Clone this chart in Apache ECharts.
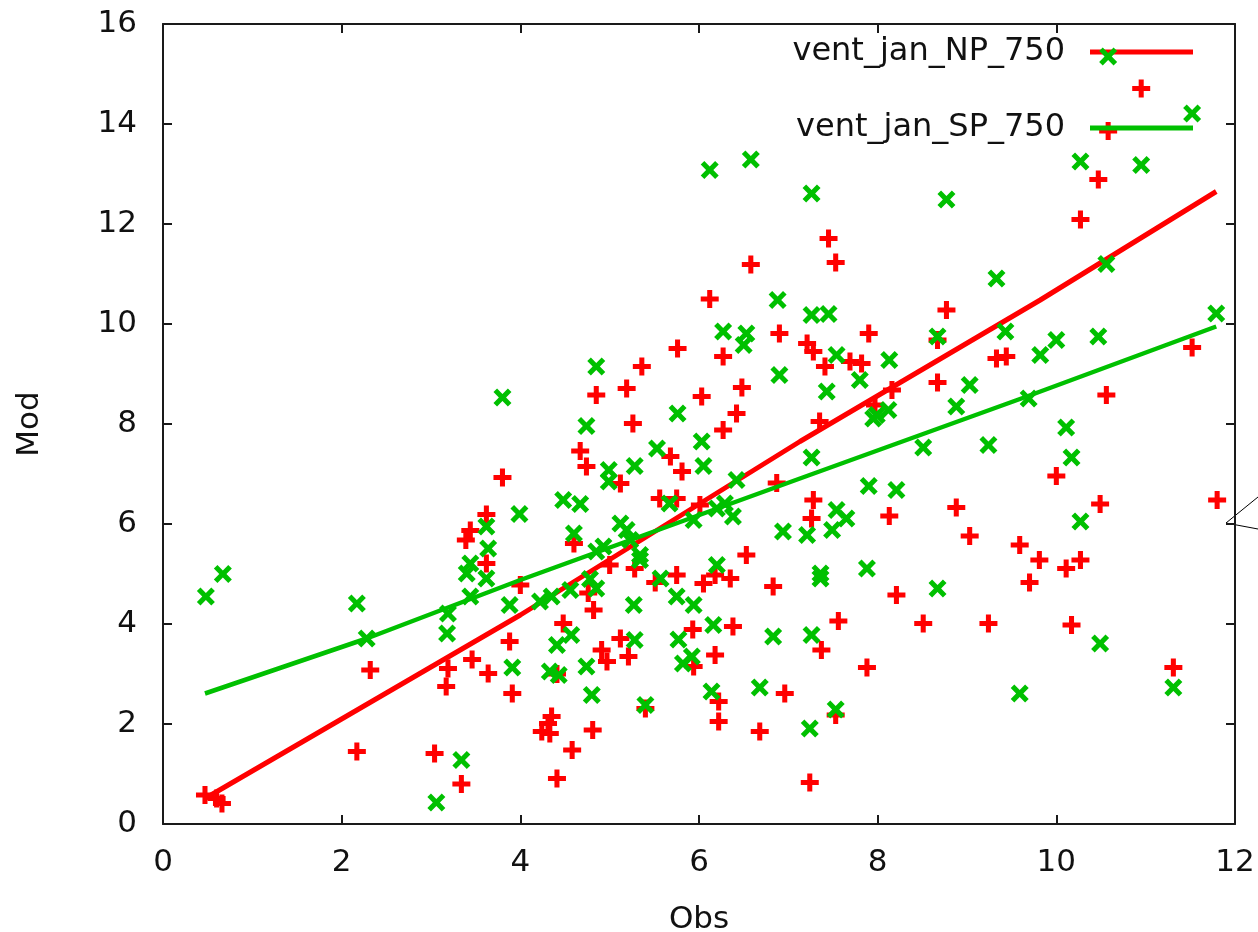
<!DOCTYPE html>
<html>
<head>
<meta charset="utf-8">
<script src="https://cdn.jsdelivr.net/npm/echarts@6/dist/echarts.min.js"></script>
<style>
  html, body { margin: 0; padding: 0; background: #fff; }
  #chart { width: 1258px; height: 932px; }
</style>
</head>
<body>
<div id="chart"></div>
<script>
// Observed vs modelled values, [Obs, Mod]
const npPoints = [
  [0.47,0.58],[0.60,0.51],[0.66,0.41],[2.17,1.45],[2.32,3.08],[3.04,1.41],[3.34,0.80],
  [3.17,2.75],[3.19,3.11],[3.46,3.29],[3.64,3.01],[3.88,3.65],[3.91,2.61],[3.62,5.21],
  [3.39,5.68],[3.44,5.87],[3.62,6.19],[3.80,6.93],[4.00,4.78],[4.35,2.15],[4.41,3.00],
  [4.48,4.01],[4.82,4.28],[4.76,4.62],[4.60,5.61],[4.67,7.46],[4.74,7.15],[4.85,8.58],
  [4.31,2.01],[4.24,1.85],[4.33,1.81],[4.81,1.88],[4.58,1.48],[4.41,0.91],[4.91,3.48],
  [4.97,3.25],[5.12,3.71],[5.21,3.35],[5.40,2.31],[5.00,5.18],[5.28,5.11],[5.12,6.81],
  [5.19,8.71],[5.26,8.01],[5.36,9.15],[5.51,4.83],[5.75,4.98],[6.05,4.81],[6.18,4.98],
  [6.35,4.91],[6.53,5.38],[5.93,3.89],[6.38,3.95],[5.94,3.15],[6.18,3.38],[6.22,2.45],
  [6.22,2.05],[6.83,4.75],[6.96,2.61],[6.68,1.85],[7.56,4.06],[7.37,3.48],[7.88,3.13],
  [7.53,2.18],[7.24,0.83],[5.56,6.51],[5.75,6.51],[5.68,7.35],[5.81,7.05],[6.01,6.38],
  [6.03,8.55],[6.27,7.88],[6.42,8.21],[6.48,8.73],[5.76,9.51],[6.27,9.35],[6.12,10.50],
  [6.58,11.19],[6.87,6.82],[6.90,9.81],[7.21,9.61],[7.28,9.45],[7.41,9.15],[7.69,9.25],
  [7.82,9.21],[7.90,9.81],[7.35,8.05],[7.28,6.48],[7.26,6.11],[7.45,11.71],[7.53,11.23],
  [7.97,8.38],[8.16,8.68],[8.67,9.68],[8.67,8.83],[8.77,10.28],[9.33,9.31],[9.44,9.35],
  [10.56,8.58],[11.52,9.53],[10.00,6.96],[11.80,6.48],[8.13,6.16],[8.88,6.33],[10.49,6.40],
  [9.03,5.76],[9.59,5.58],[9.81,5.28],[10.11,5.11],[10.27,5.28],[9.70,4.83],[8.21,4.58],
  [8.51,4.01],[9.24,4.01],[10.17,3.98],[11.31,3.13],[10.27,12.09],[10.47,12.89],
  [10.58,13.86],[10.95,14.71]
];

const spPoints = [
  [0.48,4.55],[0.67,5.00],[2.17,4.41],[2.28,3.71],[3.34,1.28],[3.06,0.43],[3.18,3.81],
  [3.19,4.21],[3.44,4.55],[3.40,5.01],[3.44,5.21],[3.62,4.91],[3.64,5.51],[3.62,5.95],
  [3.80,8.53],[3.99,6.20],[3.88,4.38],[3.91,3.13],[4.22,4.45],[4.35,4.55],[4.56,4.68],
  [4.78,4.90],[4.85,4.71],[4.85,5.45],[4.60,5.81],[4.48,6.48],[4.67,6.40],[4.74,7.96],
  [4.85,9.15],[4.57,3.78],[4.41,3.58],[4.33,3.05],[4.43,2.98],[4.74,3.15],[4.80,2.58],
  [5.28,3.68],[5.40,2.38],[5.34,5.28],[5.57,4.91],[5.75,4.55],[5.94,4.38],[6.20,5.18],
  [6.16,3.98],[5.77,3.69],[5.82,3.21],[5.92,3.35],[6.14,2.65],[6.83,3.75],[6.68,2.73],
  [7.36,5.01],[7.36,4.91],[7.88,5.11],[7.26,3.78],[7.53,2.29],[7.24,1.91],[4.99,7.08],
  [4.99,6.85],[5.28,7.16],[5.53,7.51],[5.76,8.21],[6.03,7.65],[6.05,7.16],[6.42,6.88],
  [5.67,6.41],[6.29,6.41],[6.20,6.31],[6.38,6.15],[5.94,6.08],[5.12,6.01],[5.19,5.88],
  [5.23,5.68],[4.93,5.55],[5.34,5.38],[6.94,5.85],[7.21,5.78],[5.27,4.38],[6.27,9.85],
  [6.53,9.81],[6.50,9.58],[6.90,8.98],[7.54,9.38],[7.80,8.88],[7.43,8.65],[7.95,8.11],
  [7.26,7.33],[7.90,6.76],[7.54,6.28],[7.65,6.11],[7.49,5.88],[6.12,13.08],[6.58,13.29],
  [7.26,12.61],[6.88,10.48],[7.26,10.18],[7.45,10.20],[8.77,12.49],[9.33,10.91],
  [10.56,11.20],[11.79,10.21],[10.27,13.25],[10.95,13.18],[11.52,14.21],[10.58,15.35],
  [8.67,9.75],[9.43,9.85],[10.47,9.75],[10.00,9.68],[9.82,9.38],[8.13,9.28],[9.03,8.78],
  [9.69,8.51],[8.88,8.35],[7.99,8.18],[8.12,8.28],[10.11,7.93],[8.51,7.53],[9.24,7.58],
  [10.17,7.33],[8.21,6.68],[10.27,6.05],[8.67,4.71],[10.49,3.61],[9.59,2.61],[11.31,2.73]
];

// Fitted lines, sampled along Obs
const npFit = [[0.47,0.51],[4.00,4.18],[7.13,7.65],[9.82,10.48],[11.79,12.65]];
const spFit = [[0.47,2.61],[2.28,3.71],[4.00,4.88],[7.13,6.91],[9.67,8.55],[11.79,9.95]];

const seriesNames = ['vent_jan_NP_750', 'vent_jan_SP_750'];
const xTicks = { min: 0, max: 12, interval: 2 };
const yTicks = { min: 0, max: 16, interval: 2 };

const RED = '#ff0000';
const GREEN = '#00c000';
const FONT = 'DejaVu Sans';
const FS = 31;
const LEGEND_FS = 32;

const plusPath = 'path://M3.6,0H6.4V3.6H10V6.4H6.4V10H3.6V6.4H0V3.6H3.6Z';
const crossPath = 'path://M0,2L2,0L5,3L8,0L10,2L7,5L10,8L8,10L5,7L2,10L0,8L3,5Z';

const frame = { show: true, onZero: false, lineStyle: { color: '#1a1a1a', width: 2 } };
const inTick = { show: true, inside: true, length: 9, lineStyle: { color: '#1a1a1a', width: 2 } };
const tickLabel = { color: '#111', fontFamily: FONT, fontSize: FS };
const legendText = { fontFamily: FONT, fontSize: LEGEND_FS, color: '#111', lineHeight: 32, padding: [0, 20, 0, 0] };

const chart = echarts.init(document.getElementById('chart'), null, { renderer: 'canvas' });

chart.setOption({
  animation: false,
  backgroundColor: '#fff',
  grid: { left: 163, right: 23, top: 24, bottom: 108, show: false, outerBoundsMode: 'none', containLabel: false },
  legend: [
    {
      data: [{ name: seriesNames[0], icon: 'rect', itemStyle: { color: RED } }],
      right: 60, top: 31, align: 'right', itemWidth: 103, itemHeight: 5,
      selectedMode: false, textStyle: legendText
    },
    {
      data: [{ name: seriesNames[1], icon: 'rect', itemStyle: { color: GREEN } }],
      right: 60, top: 107, align: 'right', itemWidth: 103, itemHeight: 5,
      selectedMode: false, textStyle: legendText
    }
  ],
  xAxis: [
    {
      type: 'value', position: 'bottom', ...xTicks,
      name: 'Obs', nameLocation: 'middle', nameGap: 80,
      nameTextStyle: { fontFamily: FONT, fontSize: FS, color: '#111' },
      axisLine: frame, axisTick: inTick, splitLine: { show: false },
      axisLabel: { ...tickLabel, margin: 23 }
    },
    {
      type: 'value', position: 'top', ...xTicks,
      axisLine: frame, axisTick: inTick, splitLine: { show: false },
      axisLabel: { show: false }
    }
  ],
  yAxis: [
    {
      type: 'value', position: 'left', ...yTicks,
      name: 'Mod', nameLocation: 'middle', nameGap: 118,
      nameTextStyle: { fontFamily: FONT, fontSize: FS, color: '#111' },
      axisLine: frame, axisTick: inTick, splitLine: { show: false },
      axisLabel: { ...tickLabel, margin: 26 }
    },
    {
      type: 'value', position: 'right', ...yTicks,
      axisLine: frame, axisTick: inTick, splitLine: { show: false },
      axisLabel: { show: false }
    }
  ],
  series: [
    {
      name: seriesNames[0], type: 'scatter', data: npPoints,
      symbol: plusPath, symbolSize: 18, itemStyle: { color: RED, opacity: 1 }, z: 2
    },
    {
      name: seriesNames[0], type: 'line', data: npFit,
      showSymbol: false, lineStyle: { color: RED, width: 5 }, itemStyle: { color: RED }, z: 3
    },
    {
      name: seriesNames[1], type: 'scatter', data: spPoints,
      symbol: crossPath, symbolSize: 18, itemStyle: { color: GREEN, opacity: 1 }, z: 4
    },
    {
      name: seriesNames[1], type: 'line', data: spFit,
      showSymbol: false, lineStyle: { color: GREEN, width: 4.5 }, itemStyle: { color: GREEN }, z: 5
    }
  ],
  graphic: [
    {
      type: 'polyline', silent: true,
      shape: { points: [[1258, 497], [1226, 523], [1258, 529]] },
      style: { stroke: '#000', lineWidth: 1, fill: null }
    }
  ]
});
</script>
</body>
</html>
